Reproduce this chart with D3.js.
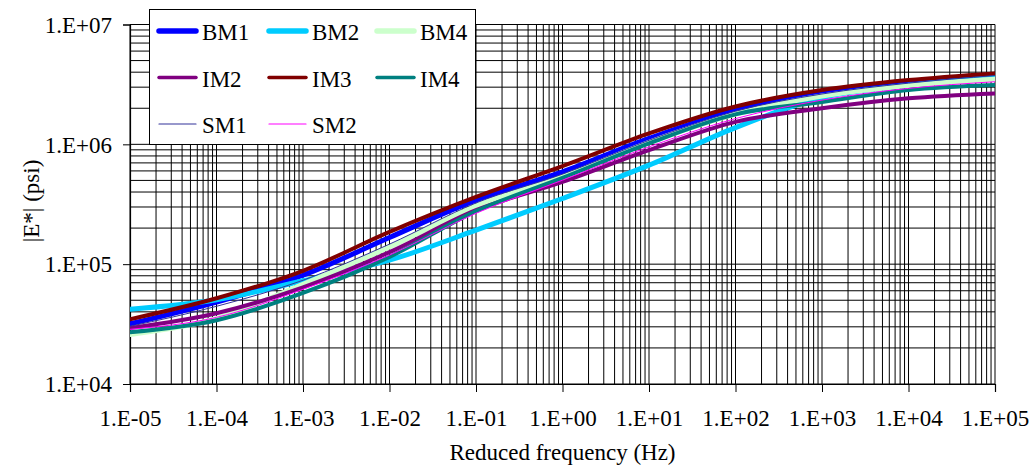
<!DOCTYPE html>
<html>
<head>
<meta charset="utf-8">
<script src="https://cdn.jsdelivr.net/npm/d3@7"></script>
<style>
  html, body { margin: 0; padding: 0; background: #fff; }
  svg { display: block; }
  svg text { font-family: "Liberation Serif", "DejaVu Serif", serif !important; fill: #000; }
</style>
</head>
<body>
<svg id="chart" width="1035" height="472"></svg>
<script>
// ---- data ----
const frequencies = [1e-5, 1e-4, 1e-3, 1e-2, 1e-1, 1e0, 1e1, 1e2, 1e3, 1e4, 1e5];
const xTickLabels = ["1.E-05","1.E-04","1.E-03","1.E-02","1.E-01","1.E+00","1.E+01","1.E+02","1.E+03","1.E+04","1.E+05"];
const yTickValues = [1e4, 1e5, 1e6, 1e7];
const yTickLabels = ["1.E+04","1.E+05","1.E+06","1.E+07"];
const seriesNames = ["BM1","BM2","BM4","IM2","IM3","IM4","SM1","SM2"];
const BM1 = [31800, 48300, 80800, 167000, 342000, 589000, 1120000, 1930000, 2660000, 3230000, 3640000];
const BM2 = [42000, 50400, 72700, 108000, 192000, 353000, 670000, 1380000, 2460000, 3120000, 3620000];
const BM4 = [25900, 35300, 67900, 139000, 305000, 535000, 1040000, 1790000, 2530000, 3090000, 3490000];
const IM2 = [29300, 38900, 64100, 126000, 282000, 486000, 895000, 1540000, 2000000, 2420000, 2660000];
const IM3 = [34700, 51900, 88100, 186000, 364000, 658000, 1233000, 2070000, 2840000, 3440000, 3910000];
const IM4 = [27000, 34000, 57500, 115000, 277000, 525000, 1020000, 1780000, 2260000, 2840000, 3120000];
const SM1 = [30300, 44500, 73400, 147000, 324000, 564000, 1080000, 1890000, 2630000, 3240000, 3750000];
const SM2 = [28600, 36000, 61700, 119000, 266000, 502000, 953000, 1640000, 2340000, 2930000, 3330000];
const seriesValues = [BM1, BM2, BM4, IM2, IM3, IM4, SM1, SM2];
const xTitle = "Reduced frequency (Hz)";
const yTitle = "|E*| (psi)";

// ---- styles ----
const FONT = "'Liberation Serif', 'DejaVu Serif', serif";
const colors = ["#0000FF","#00CCFF","#CCFFCC","#800080","#800000","#008080","#333399","#FF00FF"];
const widths = [5, 5, 5, 4, 4, 4, 1, 1];
const legendWidths = [5.5, 5.5, 5.5, 3.5, 3.5, 3.5, 1.2, 1.2];

const svg = d3.select("#chart");
const pLeft = 130, pRight = 995, pTop = 24.5, pBottom = 384;

const x = d3.scaleLog().domain([1e-5, 1e5]).range([pLeft, pRight]);
const y = d3.scaleLog().domain([1e4, 1e7]).range([pBottom, pTop]);

// grid
const grid = svg.append("g");
const xGrid = [];
for (let e = -5; e < 5; e++) for (let k = 1; k <= 9; k++) xGrid.push(k * Math.pow(10, e));
xGrid.push(1e5);
const yGrid = [];
for (let e = 4; e < 7; e++) for (let k = 1; k <= 9; k++) yGrid.push(k * Math.pow(10, e));
yGrid.push(1e7);

grid.selectAll("line.h").data(yGrid).join("line").attr("class", "h")
  .attr("x1", pLeft).attr("x2", pRight)
  .attr("y1", d => y(d)).attr("y2", d => y(d))
  .attr("stroke", "#000").attr("stroke-width", 1);
grid.selectAll("line.v").data(xGrid).join("line").attr("class", "v")
  .attr("y1", pTop).attr("y2", pBottom)
  .attr("x1", d => x(d)).attr("x2", d => x(d))
  .attr("stroke", "#000").attr("stroke-width", 1);

// axes
const xAxis = d3.axisBottom(x).tickValues(frequencies)
  .tickFormat((d, i) => xTickLabels[i]).tickSize(8).tickPadding(18);
const yAxis = d3.axisLeft(y).tickValues(yTickValues)
  .tickFormat((d, i) => yTickLabels[i]).tickSize(7).tickPadding(11);

const gx = svg.append("g").attr("transform", `translate(0,${pBottom})`).call(xAxis);
const gy = svg.append("g").attr("transform", `translate(${pLeft},0)`).call(yAxis);
[gx, gy].forEach(g => {
  g.attr("font-family", FONT).attr("font-size", 23);
  g.select(".domain").attr("stroke", "#000").attr("stroke-width", 1.2);
  g.selectAll(".tick line").attr("stroke", "#000").attr("stroke-width", 1);
  g.selectAll(".tick text").attr("font-family", FONT).attr("font-size", 23).attr("fill", "#000");
});
gx.selectAll(".tick text").attr("dy", "0.71em");
gy.selectAll(".tick text").attr("dy", "0.34em");

// clip
svg.append("clipPath").attr("id", "clip").append("rect")
  .attr("x", pLeft).attr("y", pTop).attr("width", pRight - pLeft).attr("height", pBottom - pTop);

const line = d3.line()
  .x((d, i) => x(frequencies[i]))
  .y(d => y(d))
  .curve(d3.curveMonotoneX);

const plot = svg.append("g").attr("clip-path", "url(#clip)");
seriesValues.forEach((vals, i) => {
  plot.append("path")
    .attr("d", line(vals))
    .attr("fill", "none")
    .attr("stroke", colors[i])
    .attr("stroke-width", widths[i])
    .attr("stroke-linejoin", "round")
    .attr("stroke-linecap", "round");
});

// titles
svg.append("text").attr("x", (pLeft + pRight) / 2).attr("y", 460)
  .attr("text-anchor", "middle").attr("font-family", FONT).attr("font-size", 23).text(xTitle);
svg.append("text").attr("transform", "translate(39,201) rotate(-90)")
  .attr("text-anchor", "middle").attr("font-family", FONT).attr("font-size", 23).text(yTitle);

// legend
const lg = svg.append("g");
lg.append("rect").attr("x", 149.5).attr("y", 9.5).attr("width", 326).attr("height", 135)
  .attr("fill", "#fff").attr("stroke", "#000").attr("stroke-width", 1);
const colX = [157, 267, 375];
const rowY = [31, 77.5, 124];
seriesNames.forEach((name, i) => {
  const cx = colX[i % 3], cy = rowY[Math.floor(i / 3)];
  lg.append("line").attr("x1", cx + 2).attr("x2", cx + 39)
    .attr("y1", cy).attr("y2", cy)
    .attr("stroke", colors[i]).attr("stroke-width", legendWidths[i])
    .attr("stroke-linecap", "round");
  lg.append("text").attr("x", cx + 45).attr("y", cy + 9)
    .attr("font-family", FONT).attr("font-size", 23).text(name);
});
</script>
</body>
</html>
